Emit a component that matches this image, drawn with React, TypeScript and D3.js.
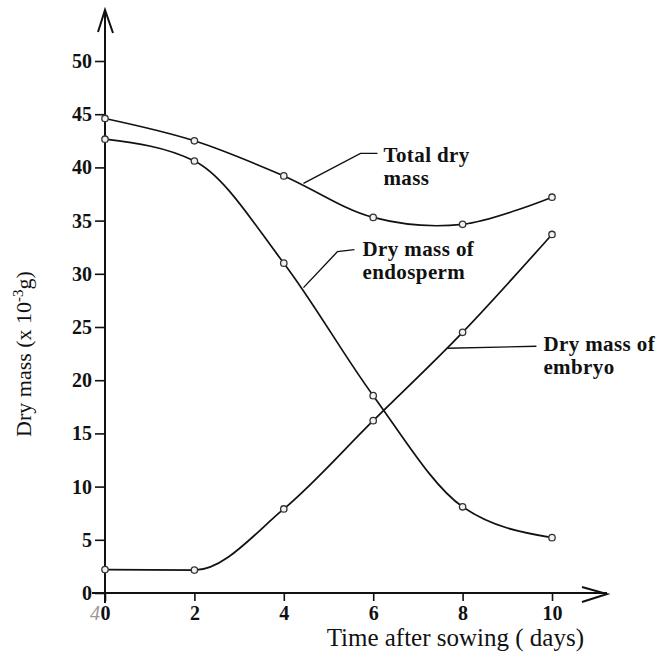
import React, { useEffect, useRef } from 'react';
import * as d3 from 'd3';

// values (x 10^-3 g)
const days = [0, 2, 4, 6, 8, 10];
const totalMass = [44.6, 42.5, 39.2, 35.3, 34.65, 37.2];
const endospermMass = [42.65, 40.6, 31.0, 18.55, 8.1, 5.2];
const embryoMass = [2.2, 2.15, 7.9, 16.2, 24.5, 33.7];

const xTicks = [0, 2, 4, 6, 8, 10];
const yTicks = [0, 5, 10, 15, 20, 25, 30, 35, 40, 45, 50];

// leader lines: anchor on the curve in data units, the rest as pixel offsets
const annotations = [
  { lines: ['Total dry', 'mass'], day: 4.44, value: 38.5, path: [[57, -30], [74, -30]], text: [80, -21] },
  { lines: ['Dry mass of', 'endosperm'], day: 4.44, value: 28.7, path: [[34, -36], [51, -38]], text: [59, -32] },
  { lines: ['Dry mass of', 'embryo'], day: 7.66, value: 23.0, path: [[89, -2]], text: [96, 3] }
];

const width = 665;
const height = 655;
const serif = '"Liberation Serif", "Times New Roman", serif';

export default function App() {
  const ref = useRef<SVGSVGElement>(null);

  useEffect(() => {
    const svg = d3.select(ref.current);
    svg.selectAll('*').remove();

    const x = d3.scaleLinear().domain([0, 10]).range([105, 552]);
    const y = d3.scaleLinear().domain([0, 50]).range([593, 61]);
    const x0 = x(0);
    const y0 = y(0);

    // Axes //
    const yAxis = d3.axisLeft(y).tickValues(yTicks).tickSize(10).tickSizeOuter(0);
    const yg = svg.append('g').attr('transform', `translate(${x0},0)`).call(yAxis);
    yg.select('.domain').remove();
    yg.selectAll('line').attr('stroke', '#111').attr('stroke-width', 1.6);
    yg.selectAll('text')
      .attr('font-family', serif)
      .attr('font-size', 20)
      .attr('font-weight', 'bold')
      .attr('fill', '#111')
      .attr('x', -13);

    const xAxis = d3.axisBottom(x).tickValues(xTicks).tickSize(8).tickSizeOuter(0);
    const xg = svg.append('g').attr('transform', `translate(0,${y0})`).call(xAxis);
    xg.select('.domain').remove();
    xg.selectAll('line').attr('stroke', '#111').attr('stroke-width', 1.6);
    xg.selectAll('text')
      .attr('font-family', serif)
      .attr('font-size', 20)
      .attr('font-weight', 'bold')
      .attr('fill', '#111')
      .attr('dy', 0)
      .attr('y', 27);

    // stray pencil mark in front of the 0
    svg.append('text')
      .attr('x', x0 - 10).attr('y', y0 + 27)
      .attr('font-family', serif).attr('font-size', 20).attr('font-style', 'italic')
      .attr('fill', '#999').attr('text-anchor', 'middle')
      .text('4');

    const axisStroke = { stroke: '#111', 'stroke-width': 2, fill: 'none' };
    const apply = (sel, attrs) => { Object.entries(attrs).forEach(([k, v]) => sel.attr(k, v)); return sel; };

    apply(svg.append('path').attr('d', `M${x0},${y0 + 10}V10M${x0 - 7},32L${x0},10L${x0 + 8},33`), axisStroke);
    apply(svg.append('path').attr('d', `M${x0 - 13},${y0}H607M582,${y0 - 6}L607,${y0 + 1}L582,${y0 + 9}`), axisStroke);

    // Axis titles //
    svg.append('text')
      .attr('x', 584).attr('y', 646)
      .attr('text-anchor', 'end')
      .attr('font-family', serif).attr('font-size', 25).attr('fill', '#111')
      .text('Time after sowing ( days)');

    const yTitle = svg.append('text')
      .attr('transform', `translate(31,354) rotate(-90)`)
      .attr('text-anchor', 'middle')
      .attr('font-family', serif).attr('font-size', 22).attr('fill', '#111');
    yTitle.append('tspan').text('Dry mass  (x 10');
    yTitle.append('tspan').attr('font-size', 15).attr('dy', -8).text('-3');
    yTitle.append('tspan').attr('dy', 8).text('g)');

    // Lines //
    const series = [
      { values: totalMass, curve: d3.curveCatmullRom.alpha(0.5) },
      { values: endospermMass, curve: d3.curveMonotoneX },
      { values: embryoMass, curve: d3.curveMonotoneX }
    ];

    series.forEach(s => {
      const pts = days.map((d, i) => [d, s.values[i]]);
      svg.append('path')
        .datum(pts)
        .attr('fill', 'none')
        .attr('stroke', '#111')
        .attr('stroke-width', 1.7)
        .attr('d', d3.line().x(d => x(d[0])).y(d => y(d[1])).curve(s.curve));

      svg.append('g')
        .selectAll('circle')
        .data(pts)
        .enter()
        .append('circle')
        .attr('cx', d => x(d[0]))
        .attr('cy', d => y(d[1]))
        .attr('r', 3.2)
        .attr('fill', '#f2f2f2')
        .attr('stroke', '#333')
        .attr('stroke-width', 1.3);
    });

    // Annotations //
    annotations.forEach(a => {
      const ax = x(a.day);
      const ay = y(a.value);
      const d = `M${ax},${ay}` + a.path.map(p => `L${ax + p[0]},${ay + p[1]}`).join('');
      svg.append('path').attr('d', d).attr('fill', 'none').attr('stroke', '#111').attr('stroke-width', 1.4);
      a.lines.forEach((line, i) => {
        svg.append('text')
          .attr('x', ax + a.text[0])
          .attr('y', ay + a.text[1] + i * 23)
          .attr('font-family', serif).attr('font-size', 21).attr('font-weight', 'bold')
          .attr('letter-spacing', 0.4)
          .attr('fill', '#111')
          .text(line);
      });
    });
  }, []);

  return (
    <svg
      ref={ref}
      width={width}
      height={height}
      style={{ position: 'absolute', left: 0, top: 0, background: '#fff' }}
    />
  );
}
